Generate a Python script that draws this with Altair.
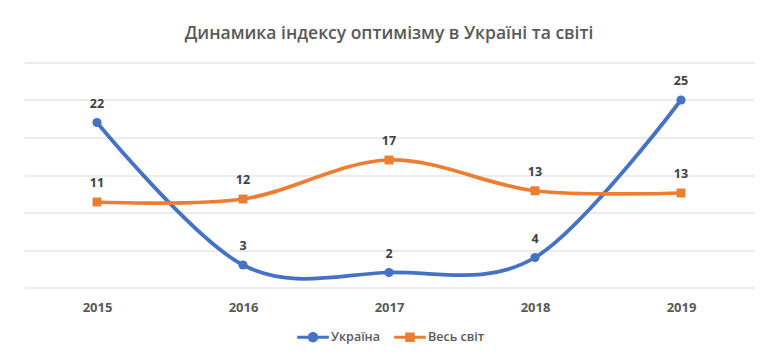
import altair as alt
import pandas as pd

years = ["2015", "2016", "2017", "2018", "2019"]
ukraine = [22, 3, 2, 4, 25]
world = [11.4, 11.8, 17.0, 12.9, 12.6]
series = ["Україна", "Весь світ"]
colors = ["#4472C4", "#ED7D31"]

rows = []
for name, vals in zip(series, [ukraine, world]):
    for y, v in zip(years, vals):
        rows.append({"year": y, "value": v, "series": name})
df = pd.DataFrame(rows)

circ_leg = ("M-1,-0.1H1V0.1H-1Z "
            "M-0.33,0A0.33,0.33 0 1,1 0.33,0A0.33,0.33 0 1,1 -0.33,0Z")
sq_leg = ("M-1,-0.1H1V0.1H-1Z "
          "M-0.3,-0.3H0.3V0.3H-0.3Z")

legend = alt.Legend(
    title=None,
    orient="none",
    direction="horizontal",
    legendX=273,
    legendY=258.5,
    symbolSize=1000,
    symbolStrokeWidth=0,
    symbolOpacity=1,
    labelFont="Open Sans",
    labelFontSize=12.5,
    labelFontWeight=600,
    labelColor="#595959",
    labelOffset=2,
    columnPadding=14,
)

cscale = alt.Scale(domain=series, range=colors)
color_l = alt.Color("series:N", scale=cscale, legend=legend)
x = alt.X("year:O", scale=alt.Scale(type="point", padding=0.5),
          axis=alt.Axis(title=None, labelAngle=0, ticks=False, domain=False, grid=False,
                        labelFont="Open Sans", labelFontSize=13, labelFontWeight="bold",
                        labelColor="#595959", labelPadding=14))
y = alt.Y("value:Q", scale=alt.Scale(domain=[0, 30], nice=False),
          axis=alt.Axis(title=None, labels=False, ticks=False, domain=False,
                        values=[0, 5, 10, 15, 20, 25, 30], gridColor="#D9D9D9", gridWidth=1))

base = alt.Chart(df)
lines = base.mark_line(interpolate="cardinal", tension=0, strokeWidth=3.75).encode(
    x=x, y=y, color=color_l, detail="series:N")
pts_ua = base.transform_filter(alt.datum.series == series[0]).mark_circle(
    size=85, opacity=1).encode(x=x, y=y, color=color_l)
pts_w = base.transform_filter(alt.datum.series == series[1]).mark_square(
    size=80, opacity=1).encode(x=x, y=y, color=color_l)
leg_layer = base.mark_point(filled=True, size=1000, opacity=0).encode(
    x=x, y=y, color=color_l,
    shape=alt.Shape("series:N", scale=alt.Scale(domain=series, range=[circ_leg, sq_leg]),
                    legend=legend))
labels = base.mark_text(dy=-19, font="Open Sans", fontSize=12.5, fontWeight="bold",
                        color="#404040").encode(
    x=x, y=y, text=alt.Text("value:Q", format=".0f"))

chart = alt.layer(lines, pts_ua, pts_w, leg_layer, labels).properties(
    width=730,
    height=225,
    autosize=alt.AutoSizeParams(type="none"),
    padding={"left": 16, "top": 54.5, "right": 16, "bottom": 61},
    title=alt.Title("Динамика індексу оптимізму в Україні та світі",
                    font="Open Sans", fontSize=17.5, fontWeight=600, color="#595959",
                    anchor="middle", offset=20),
).configure_view(stroke=None)

chart.save("out.html", embed_options={"renderer": "svg", "actions": False})
